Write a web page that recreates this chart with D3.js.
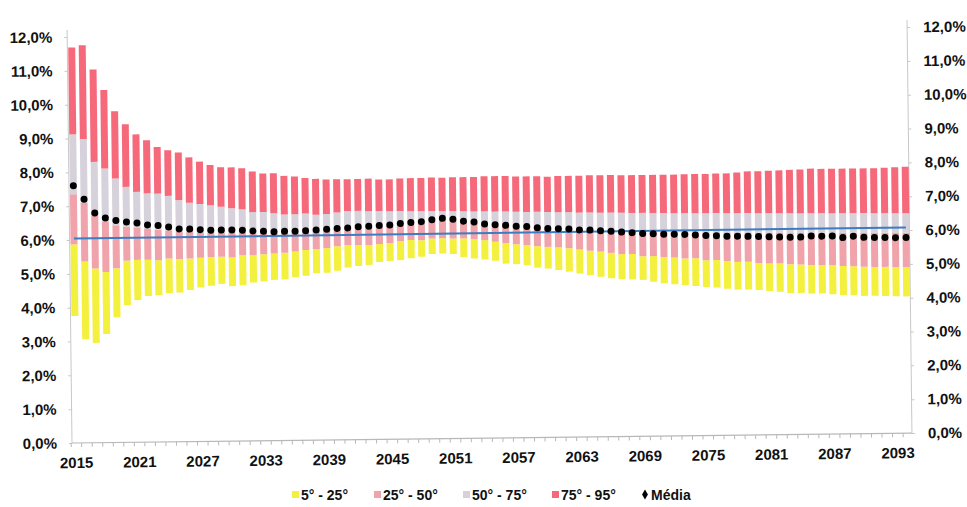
<!DOCTYPE html>
<html>
<head>
<meta charset="utf-8">
<script src="https://cdn.jsdelivr.net/npm/d3@7"></script>
<style>
  html, body { margin: 0; padding: 0; background: #fff; }
  svg { display: block; }
  text { font-family: "Liberation Sans", Arial, sans-serif; font-weight: bold; fill: #111; }
</style>
</head>
<body>
<svg id="chart" width="967" height="507"></svg>
<script>
// ---------- DATA ----------
const years = d3.range(2015, 2095);
const p5 = [3.75,3.06,2.95,3.21,3.70,4.06,4.20,4.32,4.34,4.40,4.41,4.48,4.55,4.60,4.65,4.58,4.60,4.68,4.71,4.75,4.76,4.82,4.86,4.93,4.94,5.00,
  5.09,5.13,5.16,5.24,5.27,5.29,5.34,5.38,5.46,5.47,5.45,5.36,5.31,5.28,5.24,5.15,5.13,5.10,5.02,4.99,4.94,4.89,4.83,4.78,4.73,4.68,4.65,
  4.64,4.62,4.56,4.51,4.48,4.45,4.42,4.39,4.37,4.33,4.30,4.30,4.28,4.25,4.22,4.18,4.18,4.16,4.16,4.13,4.10,4.09,4.07,4.07,4.06,4.05,4.04];
const p25 = [5.87,5.36,5.15,5.04,5.15,5.37,5.39,5.39,5.37,5.42,5.40,5.41,5.43,5.45,5.45,5.43,5.49,5.49,5.51,5.53,5.55,5.58,5.62,5.64,5.67,5.72,
  5.75,5.75,5.75,5.77,5.79,5.85,5.88,5.87,5.92,5.92,5.91,5.91,5.88,5.85,5.80,5.76,5.72,5.69,5.65,5.63,5.61,5.58,5.54,5.50,5.47,5.43,5.39,
  5.39,5.32,5.32,5.29,5.27,5.24,5.24,5.18,5.18,5.15,5.12,5.12,5.08,5.06,5.06,5.03,5.02,5.00,4.99,4.99,4.96,4.95,4.93,4.92,4.92,4.91,4.91];
const p50 = [7.35,7.10,6.70,6.52,6.42,6.38,6.35,6.30,6.28,6.25,6.22,6.20,6.18,6.17,6.17,6.16,6.16,6.14,6.14,6.13,6.13,6.14,6.15,6.17,6.19,6.21,
  6.23,6.25,6.27,6.29,6.30,6.33,6.36,6.38,6.42,6.45,6.43,6.39,6.36,6.31,6.28,6.26,6.23,6.22,6.19,6.17,6.15,6.14,6.12,6.11,6.09,6.08,6.06,
  6.05,6.04,6.03,6.02,6.02,6.01,6.00,5.99,5.99,5.98,5.98,5.97,5.97,5.96,5.96,5.95,5.95,5.95,5.95,5.94,5.94,5.94,5.93,5.93,5.93,5.92,5.92];
const p75 = [9.12,8.98,8.30,8.10,7.80,7.55,7.40,7.35,7.34,7.27,7.14,7.06,7.02,6.98,6.93,6.88,6.85,6.76,6.76,6.72,6.68,6.68,6.70,6.66,6.68,6.72,
  6.76,6.76,6.75,6.75,6.74,6.74,6.73,6.73,6.73,6.72,6.72,6.71,6.70,6.70,6.69,6.69,6.68,6.67,6.67,6.66,6.65,6.65,6.63,6.63,6.62,6.62,6.61,
  6.60,6.60,6.59,6.59,6.58,6.58,6.57,6.57,6.57,6.56,6.56,6.56,6.55,6.55,6.54,6.54,6.53,6.53,6.53,6.52,6.52,6.52,6.52,6.51,6.51,6.50,6.50];
const p95 = [11.69,11.75,11.03,10.42,9.79,9.40,9.10,8.92,8.72,8.62,8.55,8.40,8.27,8.17,8.10,8.09,8.06,7.96,7.90,7.90,7.82,7.80,7.75,7.72,7.70,7.70,
  7.70,7.70,7.71,7.68,7.68,7.70,7.71,7.71,7.72,7.71,7.72,7.72,7.72,7.74,7.74,7.74,7.72,7.72,7.72,7.70,7.72,7.72,7.72,7.73,7.73,7.73,7.72,
  7.72,7.72,7.72,7.72,7.72,7.73,7.73,7.73,7.74,7.74,7.76,7.79,7.79,7.80,7.81,7.82,7.83,7.85,7.84,7.84,7.84,7.84,7.84,7.84,7.85,7.86,7.87];
const media = [7.60,7.20,6.79,6.64,6.56,6.51,6.48,6.42,6.40,6.35,6.29,6.28,6.26,6.24,6.24,6.24,6.23,6.20,6.19,6.17,6.18,6.18,6.19,6.21,6.23,6.25,
  6.26,6.29,6.30,6.32,6.33,6.37,6.40,6.42,6.47,6.51,6.48,6.42,6.39,6.33,6.30,6.28,6.25,6.24,6.20,6.17,6.16,6.15,6.12,6.11,6.09,6.07,6.04,
  6.02,5.99,5.98,5.96,5.96,5.95,5.93,5.91,5.90,5.88,5.88,5.87,5.86,5.85,5.84,5.83,5.83,5.86,5.85,5.85,5.80,5.84,5.80,5.79,5.79,5.78,5.78];
const refYears = [2015, 2094];
const refValues = [6.04, 6.08];
const yTicks = [0,1,2,3,4,5,6,7,8,9,10,11,12];
const xLabelYears = d3.range(2015, 2094, 6);
const seriesNames = ["5° - 25°", "25° - 50°", "50° - 75°", "75° - 95°"];
const seriesColors = ["#f3f03e", "#f0a3aa", "#d6d1da", "#f6697a"];
const meanName = "Média";

// ---------- SCALES ----------
const svg = d3.select("#chart");
const x = d3.scalePoint().domain(years).range([76.4, 908.4]);
const y = d3.scaleLinear().domain([0, 12]).range([443, 37]);
const leftX = 72, rightX = 912;
const fmt = v => d3.format(".1f")(v).replace(".", ",") + "%";

const g = svg.append("g").attr("transform", "rotate(-0.68, 72, 443)");

// axes lines
g.append("line").attr("x1", leftX).attr("x2", leftX).attr("y1", y(0)).attr("y2", 30)
  .attr("stroke", "#c8c8c8").attr("stroke-width", 1);
g.append("line").attr("x1", rightX).attr("x2", rightX).attr("y1", y(0)).attr("y2", 30)
  .attr("stroke", "#c8c8c8").attr("stroke-width", 1);

// left axis
const yAxisL = d3.axisLeft(y).tickValues(yTicks).tickFormat(fmt).tickSize(3).tickPadding(12);
const gl = g.append("g").attr("transform", `translate(${leftX},0)`).call(yAxisL);
gl.select(".domain").remove();
gl.selectAll(".tick line").attr("stroke", "#c8c8c8");
gl.selectAll(".tick text").style("font-size", "15px").attr("fill", "#111").style("font-family", "'Liberation Sans', Arial, sans-serif").style("font-weight", "bold");

// right axis
const yAxisR = d3.axisRight(y).tickValues(yTicks).tickFormat(fmt).tickSize(3).tickPadding(13);
const gr = g.append("g").attr("transform", `translate(${rightX},0)`).call(yAxisR);
gr.select(".domain").remove();
gr.selectAll(".tick line").attr("stroke", "#c8c8c8");
gr.selectAll(".tick text").style("font-size", "15px").attr("fill", "#111").style("font-family", "'Liberation Sans', Arial, sans-serif").style("font-weight", "bold");

// x axis
g.append("line").attr("x1", leftX).attr("x2", rightX).attr("y1", y(0)).attr("y2", y(0))
  .attr("stroke", "#b8b8b8").attr("stroke-width", 1.2);
const step = x.step();
g.append("g").selectAll("line").data(years).join("line")
  .attr("x1", d => x(d) - step / 2).attr("x2", d => x(d) - step / 2)
  .attr("y1", y(0)).attr("y2", y(0) + 4)
  .attr("stroke", "#b8b8b8");
g.append("g").selectAll("text").data(xLabelYears).join("text")
  .attr("x", d => x(d)).attr("y", y(0) + 25)
  .attr("text-anchor", "middle").style("font-size", "15px")
  .text(d => d);

// bars (floating stacked)
const bounds = [p5, p25, p50, p75, p95];
const barW = 7;
for (let s = 0; s < 4; s++) {
  g.append("g").selectAll("rect").data(years).join("rect")
    .attr("x", (d) => x(d) - barW / 2)
    .attr("width", barW)
    .attr("y", (d, i) => y(bounds[s + 1][i]))
    .attr("height", (d, i) => y(bounds[s][i]) - y(bounds[s + 1][i]))
    .attr("fill", seriesColors[s]);
}

// reference line
const line = d3.line().x(d => x(d[0])).y(d => y(d[1]));
g.append("path").datum(refYears.map((yy, i) => [yy, refValues[i]]))
  .attr("d", line).attr("fill", "none").attr("stroke", "#3d7cc2").attr("stroke-width", 2);

// mean dots
g.append("g").selectAll("circle").data(years).join("circle")
  .attr("cx", d => x(d)).attr("cy", (d, i) => y(media[i])).attr("r", 3.5)
  .attr("fill", "#000");

// legend (not rotated)
const legX = [292, 374, 463, 552];
const leg = svg.append("g");
seriesNames.forEach((name, i) => {
  leg.append("rect").attr("x", legX[i]).attr("y", 491).attr("width", 7).attr("height", 7).attr("fill", seriesColors[i]);
  leg.append("text").attr("x", legX[i] + 9).attr("y", 500).style("font-size", "14px").text(name);
});
leg.append("path").attr("d", d3.symbol().type(d3.symbolDiamond).size(30)()).attr("transform", "translate(645,494.5)").attr("fill", "#000");
leg.append("text").attr("x", 651).attr("y", 500).style("font-size", "14px").text(meanName);
</script>
</body>
</html>
